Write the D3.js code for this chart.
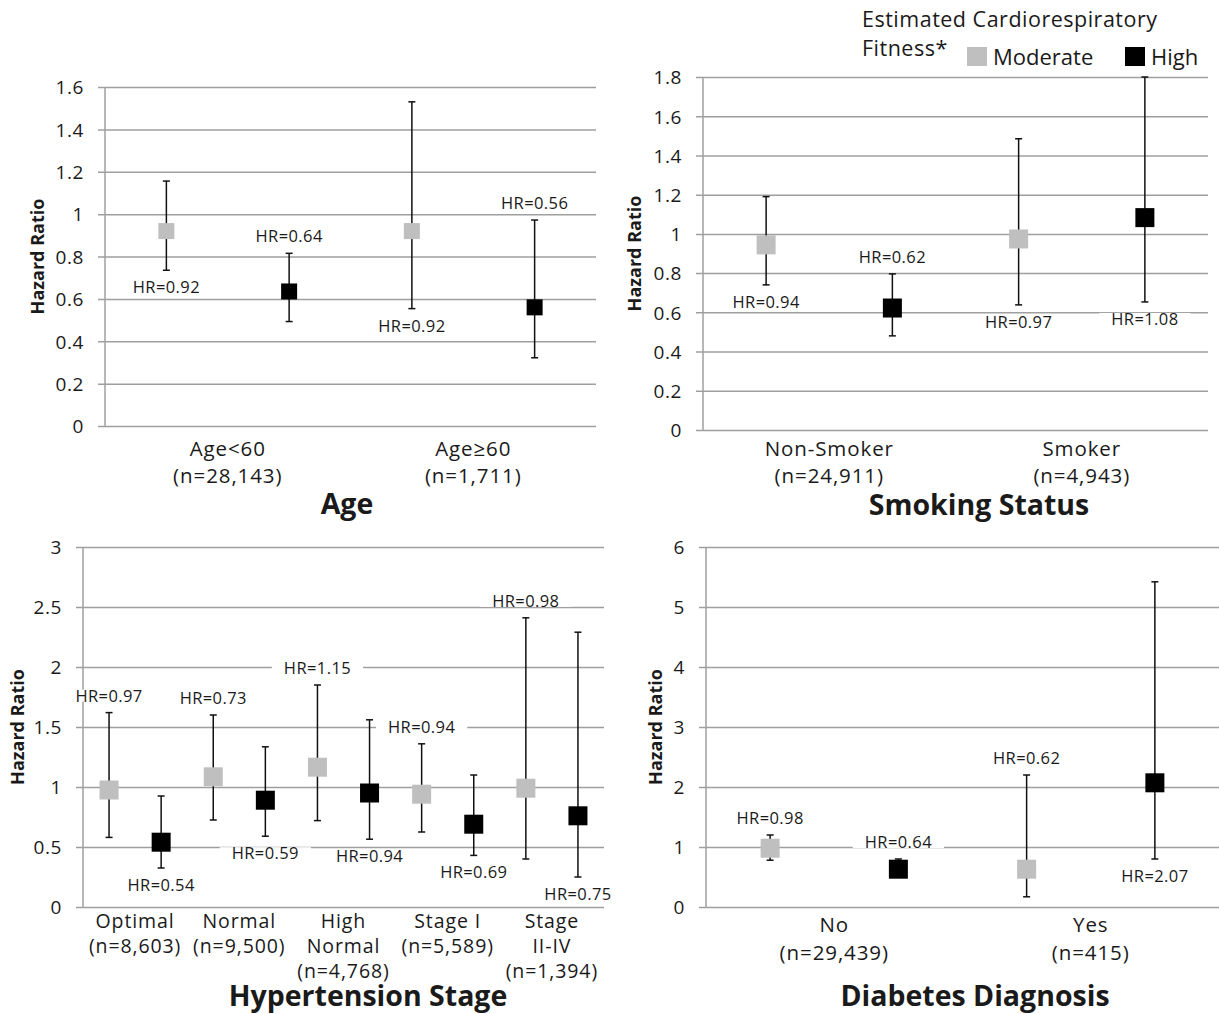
<!DOCTYPE html>
<html lang="en">
<head>
<meta charset="UTF-8">
<title>Hazard ratio by fitness level</title>
<script src="https://d3js.org/d3.v7.min.js"></script>
<style>
  body { margin: 0; background: #fff; }
  svg text { font-family: 'Open Sans', sans-serif; fill: #1a1a1a; }
</style>
</head>
<body>
<svg id="chart" width="1219" height="1014"></svg>
<script>
// series
const series = ["Moderate", "High"];
const seriesColor = ["#bfbfbf", "#000000"];

// ---- Age ----
const ageCats = ["Age<60", "Age≥60"];
const ageN = ["(n=28,143)", "(n=1,711)"];
const ageTicks = [0, 0.2, 0.4, 0.6, 0.8, 1, 1.2, 1.4, 1.6];
const ageModHR = [0.92, 0.92];
const ageModLo = [0.735, 0.554];
const ageModHi = [1.156, 1.53];
const ageModLabel = ["HR=0.92", "HR=0.92"];
const ageModSide = ["below", "below"];
const ageHighHR = [0.635, 0.56];
const ageHighLo = [0.493, 0.322];
const ageHighHi = [0.815, 0.972];
const ageHighLabel = ["HR=0.64", "HR=0.56"];
const ageHighSide = ["above", "above"];

// ---- Smoking ----
const smokeCats = ["Non-Smoker", "Smoker"];
const smokeN = ["(n=24,911)", "(n=4,943)"];
const smokeTicks = [0, 0.2, 0.4, 0.6, 0.8, 1, 1.2, 1.4, 1.6, 1.8];
const smokeModHR = [0.944, 0.974];
const smokeModLo = [0.74, 0.638];
const smokeModHi = [1.19, 1.485];
const smokeModLabel = ["HR=0.94", "HR=0.97"];
const smokeModSide = ["below", "below"];
const smokeHighHR = [0.622, 1.083];
const smokeHighLo = [0.48, 0.653];
const smokeHighHi = [0.796, 1.8];
const smokeHighLabel = ["HR=0.62", "HR=1.08"];
const smokeHighSide = ["above", "below"];

// ---- Hypertension ----
const htCats = ["Optimal", "Normal", "High\nNormal", "Stage I", "Stage\nII-IV"];
const htN = ["(n=8,603)", "(n=9,500)", "(n=4,768)", "(n=5,589)", "(n=1,394)"];
const htTicks = [0, 0.5, 1, 1.5, 2, 2.5, 3];
const htModHR = [0.975, 1.085, 1.165, 0.94, 0.99];
const htModLo = [0.58, 0.725, 0.72, 0.625, 0.40];
const htModHi = [1.62, 1.60, 1.85, 1.36, 2.41];
const htModLabel = ["HR=0.97", "HR=0.73", "HR=1.15", "HR=0.94", "HR=0.98"];
const htModSide = ["above", "above", "above", "above", "above"];
const htHighHR = [0.54, 0.89, 0.95, 0.69, 0.76];
const htHighLo = [0.325, 0.59, 0.565, 0.43, 0.25];
const htHighHi = [0.925, 1.335, 1.56, 1.10, 2.29];
const htHighLabel = ["HR=0.54", "HR=0.59", "HR=0.94", "HR=0.69", "HR=0.75"];
const htHighSide = ["below", "below", "below", "below", "below"];

// ---- Diabetes ----
const diaCats = ["No", "Yes"];
const diaN = ["(n=29,439)", "(n=415)"];
const diaTicks = [0, 1, 2, 3, 4, 5, 6];
const diaModHR = [0.98, 0.63];
const diaModLo = [0.78, 0.17];
const diaModHi = [1.2, 2.2];
const diaModLabel = ["HR=0.98", "HR=0.62"];
const diaModSide = ["above", "above"];
const diaHighHR = [0.63, 2.07];
const diaHighLo = [0.56, 0.8];
const diaHighHi = [0.8, 5.42];
const diaHighLabel = ["HR=0.64", "HR=2.07"];
const diaHighSide = ["above", "below"];

const svg = d3.select("#chart");
const gridColor = "#9f9f9f";

function rows(cats, hr, lo, hi, label, side) {
  return cats.map((c, i) => ({ cat: c, hr: hr[i], lo: lo[i], hi: hi[i], label: label[i], side: side[i] }));
}

function drawPanel(p) {
  const x = d3.scaleBand().domain(p.cats).range([p.left, p.right]);
  const sub = d3.scaleBand().domain(series).range([0, x.bandwidth()]);
  const y = d3.scaleLinear().domain([0, p.max]).range([p.bottom, p.top]);
  const g = svg.append("g");

  // gridlines, with the left tick stubs and tick labels
  const gridAxis = d3.axisLeft(y)
    .tickValues(p.ticks)
    .tickSize(p.right - p.left + 7)
    .tickPadding(14)
    .tickFormat(d => String(d));
  const grid = g.append("g").attr("transform", `translate(${p.right},0)`).call(gridAxis);
  grid.select(".domain").remove();
  grid.selectAll(".tick line").attr("stroke", gridColor).attr("stroke-width", 1.5);
  grid.selectAll(".tick text")
    .attr("font-size", 19)
    .attr("letter-spacing", 0.6)
    .attr("font-family", "'Open Sans', sans-serif")
    .attr("fill", "#1a1a1a")
    .attr("dy", "0.36em");

  g.append("line")
    .attr("x1", p.left).attr("x2", p.left)
    .attr("y1", p.top).attr("y2", p.bottom)
    .attr("stroke", gridColor).attr("stroke-width", 1.5);

  const bgLayer = g.append("g");
  const barLayer = g.append("g");
  const markLayer = g.append("g");
  const textLayer = g.append("g");

  p.data.forEach((data, si) => {
    const cx = d => x(d.cat) + sub(series[si]) + sub.bandwidth() / 2;

    barLayer.selectAll(null).data(data).join("line")
      .attr("x1", cx).attr("x2", cx)
      .attr("y1", d => y(d.lo)).attr("y2", d => y(d.hi))
      .attr("stroke", "#111").attr("stroke-width", 1.5);
    ["lo", "hi"].forEach(k => {
      barLayer.selectAll(null).data(data).join("line")
        .attr("x1", d => cx(d) - 3.5).attr("x2", d => cx(d) + 3.5)
        .attr("y1", d => y(d[k])).attr("y2", d => y(d[k]))
        .attr("stroke", "#111").attr("stroke-width", 1.5);
    });

    markLayer.selectAll(null).data(data).join("rect")
      .attr("x", d => cx(d) - p.mark / 2)
      .attr("y", d => y(d.hr) - p.mark / 2)
      .attr("width", p.mark).attr("height", p.mark)
      .attr("fill", seriesColor[si]);

    const ly = d => d.side === "above" ? y(d.hi) - 17 : y(d.lo) + 17;
    const txt = textLayer.selectAll(null).data(data).join("text")
      .attr("x", cx)
      .attr("y", ly)
      .attr("dy", "0.36em")
      .attr("text-anchor", "middle")
      .attr("font-size", 16.5)
      .attr("letter-spacing", 0.4)
      .text(d => d.label);

    // white box behind the label, cuts the gridline like the original
    txt.each(function (d) {
      const w = this.getComputedTextLength() + 24;
      bgLayer.append("rect")
        .attr("x", cx(d) - w / 2).attr("y", ly(d) - 6)
        .attr("width", w).attr("height", 12)
        .attr("fill", "#fff");
    });
  });

  // category labels
  p.cats.forEach((c, i) => {
    const lines = (c + "\n" + p.n[i]).split("\n");
    const t = g.append("text")
      .attr("text-anchor", "middle")
      .attr("font-size", p.catSize)
      .attr("letter-spacing", 0.9);
    lines.forEach((ln, j) => {
      t.append("tspan")
        .attr("x", x(c) + x.bandwidth() / 2)
        .attr("y", p.bottom + p.catOffset + j * p.catLine)
        .attr("dy", "0.36em")
        .text(ln);
    });
  });

  g.append("text")
    .attr("transform", `translate(${p.axisTitleX},${(p.top + p.bottom) / 2}) rotate(-90)`)
    .attr("text-anchor", "middle")
    .attr("dy", "0.36em")
    .attr("font-size", 18)
    .attr("font-weight", "bold")
    .text("Hazard Ratio");

  g.append("text")
    .attr("x", p.titleX).attr("y", p.titleY)
    .attr("text-anchor", "middle")
    .attr("font-size", 28.5)
    .attr("font-weight", "bold")
    .text(p.title);
}

drawPanel({
  title: "Age", cats: ageCats, n: ageN, ticks: ageTicks, max: 1.6,
  left: 105, right: 596, top: 87, bottom: 426, mark: 16,
  catSize: 20.5, catOffset: 23, catLine: 27, axisTitleX: 38, titleX: 347, titleY: 514,
  data: [rows(ageCats, ageModHR, ageModLo, ageModHi, ageModLabel, ageModSide),
         rows(ageCats, ageHighHR, ageHighLo, ageHighHi, ageHighLabel, ageHighSide)]
});

drawPanel({
  title: "Smoking Status", cats: smokeCats, n: smokeN, ticks: smokeTicks, max: 1.8,
  left: 703, right: 1208, top: 77, bottom: 430, mark: 19,
  catSize: 20.5, catOffset: 19, catLine: 27, axisTitleX: 635, titleX: 979, titleY: 515,
  data: [rows(smokeCats, smokeModHR, smokeModLo, smokeModHi, smokeModLabel, smokeModSide),
         rows(smokeCats, smokeHighHR, smokeHighLo, smokeHighHi, smokeHighLabel, smokeHighSide)]
});

drawPanel({
  title: "Hypertension Stage", cats: htCats, n: htN, ticks: htTicks, max: 3,
  left: 83, right: 604, top: 547, bottom: 907, mark: 19,
  catSize: 19.5, catOffset: 14, catLine: 25, axisTitleX: 18, titleX: 368, titleY: 1006,
  data: [rows(htCats, htModHR, htModLo, htModHi, htModLabel, htModSide),
         rows(htCats, htHighHR, htHighLo, htHighHi, htHighLabel, htHighSide)]
});

drawPanel({
  title: "Diabetes Diagnosis", cats: diaCats, n: diaN, ticks: diaTicks, max: 6,
  left: 706, right: 1219, top: 547, bottom: 907, mark: 19,
  catSize: 20.5, catOffset: 18, catLine: 28, axisTitleX: 656, titleX: 975, titleY: 1006,
  data: [rows(diaCats, diaModHR, diaModLo, diaModHi, diaModLabel, diaModSide),
         rows(diaCats, diaHighHR, diaHighLo, diaHighHi, diaHighLabel, diaHighSide)]
});

// legend
const legend = svg.append("g");
legend.append("text").attr("x", 862).attr("y", 27).attr("font-size", 21.5).attr("letter-spacing", 0.5)
  .text("Estimated Cardiorespiratory");
legend.append("text").attr("x", 862).attr("y", 56).attr("font-size", 21.5).attr("letter-spacing", 0.5)
  .text("Fitness*");
const legX = [967, 1125];
series.forEach((s, i) => {
  legend.append("rect").attr("x", legX[i]).attr("y", 47).attr("width", 20).attr("height", 19)
    .attr("fill", seriesColor[i]);
  legend.append("text").attr("x", legX[i] + 26).attr("y", 65).attr("font-size", 22).text(s);
});
</script>
</body>
</html>
